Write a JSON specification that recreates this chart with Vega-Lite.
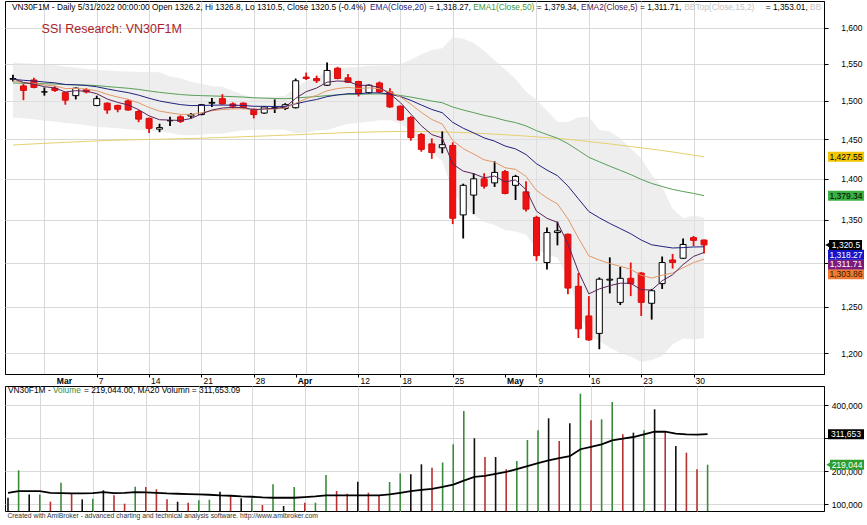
{
  "$schema": "https://vega.github.io/schema/vega-lite/v6.json",
  "background": "white",
  "padding": {"left": 3, "top": 0, "right": 0, "bottom": 0},
  "config": {"font": "Liberation Sans", "view": {"stroke": null}, "numberFormat": ","},
  "datasets": {
    "bars": [
      {"d":"2022-02-23","o":1529,"h":1535,"l":1526,"c":1530,"v":119000,"vf":"flat","e5":1530,"e10":1527,"e20":1529,"e50":1524,"e200":1442.6,"bbt":1552,"bbb":1478,"vma":134000},
      {"d":"2022-02-24","o":1520,"h":1523,"l":1501,"c":1514,"v":202000,"vf":"up","e5":1524.7,"e10":1524.6,"e20":1527.6,"e50":1523.6,"e200":1443.3,"bbt":1551,"bbb":1477,"vma":139000},
      {"d":"2022-02-25","o":1528,"h":1531,"l":1517,"c":1518,"v":129000,"vf":"flat","e5":1522.4,"e10":1523.4,"e20":1526.7,"e50":1523.4,"e200":1444,"bbt":1550,"bbb":1476,"vma":139000},
      {"d":"2022-02-28","o":1512,"h":1518,"l":1507,"c":1512,"v":129000,"vf":"up","e5":1519,"e10":1521.3,"e20":1525.3,"e50":1523,"e200":1444.7,"bbt":1549,"bbb":1474,"vma":139000},
      {"d":"2022-03-01","o":1517,"h":1520,"l":1512,"c":1514,"v":107000,"vf":"down","e5":1517.3,"e10":1520,"e20":1524.2,"e50":1522.6,"e200":1445.3,"bbt":1548,"bbb":1473,"vma":134000},
      {"d":"2022-03-02","o":1511,"h":1512,"l":1495,"c":1501,"v":164500,"vf":"up","e5":1511.9,"e10":1516.5,"e20":1522,"e50":1521.8,"e200":1446,"bbt":1546,"bbb":1471,"vma":133000},
      {"d":"2022-03-03","o":1507,"h":1518,"l":1502,"c":1517,"v":131000,"vf":"down","e5":1513.6,"e10":1516.6,"e20":1521.5,"e50":1521.6,"e200":1446.6,"bbt":1545,"bbb":1470,"vma":132000},
      {"d":"2022-03-04","o":1515,"h":1517,"l":1510,"c":1512,"v":114000,"vf":"flat","e5":1513,"e10":1515.8,"e20":1520.6,"e50":1521.2,"e200":1447.2,"bbt":1543,"bbb":1468,"vma":132000},
      {"d":"2022-03-07","o":1494,"h":1507,"l":1493,"c":1503,"v":116000,"vf":"up","e5":1509.7,"e10":1513.5,"e20":1518.9,"e50":1520.5,"e200":1447.8,"bbt":1542,"bbb":1466,"vma":133000},
      {"d":"2022-03-08","o":1497,"h":1498,"l":1483,"c":1488,"v":141500,"vf":"flat","e5":1502.5,"e10":1508.8,"e20":1516,"e50":1519.2,"e200":1448.4,"bbt":1541,"bbb":1465,"vma":136000},
      {"d":"2022-03-09","o":1494,"h":1495,"l":1485,"c":1489,"v":126400,"vf":"down","e5":1498,"e10":1505.2,"e20":1513.4,"e50":1518,"e200":1448.8,"bbt":1540,"bbb":1464,"vma":133000},
      {"d":"2022-03-10","o":1500,"h":1502,"l":1487,"c":1488,"v":101000,"vf":"down","e5":1494.7,"e10":1502.1,"e20":1511,"e50":1516.9,"e200":1449.1,"bbt":1539.5,"bbb":1463,"vma":134000},
      {"d":"2022-03-11","o":1486,"h":1488,"l":1472,"c":1476,"v":152400,"vf":"up","e5":1488.4,"e10":1497.4,"e20":1507.7,"e50":1515.3,"e200":1449.4,"bbt":1539,"bbb":1462,"vma":136000},
      {"d":"2022-03-14","o":1477,"h":1478,"l":1458,"c":1464,"v":151500,"vf":"down","e5":1480.3,"e10":1491.3,"e20":1503.5,"e50":1513.3,"e200":1449.7,"bbt":1538.8,"bbb":1461,"vma":135000},
      {"d":"2022-03-15","o":1463,"h":1470,"l":1459,"c":1465,"v":144500,"vf":"down","e5":1475.2,"e10":1486.5,"e20":1499.9,"e50":1511.4,"e200":1450,"bbt":1538.4,"bbb":1460.4,"vma":134000},
      {"d":"2022-03-16","o":1474,"h":1479,"l":1467,"c":1474,"v":114200,"vf":"down","e5":1474.8,"e10":1484.2,"e20":1497.4,"e50":1509.9,"e200":1450.3,"bbt":1532.9,"bbb":1458.4,"vma":132000},
      {"d":"2022-03-17","o":1479,"h":1481,"l":1471,"c":1473,"v":107000,"vf":"flat","e5":1474.2,"e10":1482.2,"e20":1495.1,"e50":1508.5,"e200":1450.6,"bbt":1530.4,"bbb":1455.5,"vma":131000},
      {"d":"2022-03-18","o":1480,"h":1484,"l":1477,"c":1482,"v":104000,"vf":"down","e5":1476.8,"e10":1482.2,"e20":1493.8,"e50":1507.5,"e200":1450.9,"bbt":1525.8,"bbb":1455.2,"vma":130000},
      {"d":"2022-03-21","o":1482,"h":1496,"l":1481,"c":1495,"v":111200,"vf":"up","e5":1482.9,"e10":1484.5,"e20":1493.9,"e50":1507,"e200":1451.2,"bbt":1522.9,"bbb":1455.9,"vma":129000},
      {"d":"2022-03-22","o":1497,"h":1504,"l":1492,"c":1498,"v":113000,"vf":"up","e5":1487.9,"e10":1487,"e20":1494.3,"e50":1506.6,"e200":1451.7,"bbt":1519.6,"bbb":1457.1,"vma":128000},
      {"d":"2022-03-23","o":1503,"h":1509,"l":1495,"c":1496,"v":137300,"vf":"flat","e5":1490.6,"e10":1488.6,"e20":1494.5,"e50":1506.2,"e200":1452.2,"bbt":1518.8,"bbb":1457.2,"vma":126000},
      {"d":"2022-03-24","o":1496,"h":1498,"l":1490,"c":1493,"v":124200,"vf":"down","e5":1491.4,"e10":1489.4,"e20":1494.3,"e50":1505.7,"e200":1452.7,"bbt":1513.3,"bbb":1459.5,"vma":125000},
      {"d":"2022-03-25","o":1497,"h":1498,"l":1489,"c":1491,"v":117300,"vf":"flat","e5":1491.3,"e10":1489.7,"e20":1494,"e50":1505.1,"e200":1453.2,"bbt":1508.3,"bbb":1461.7,"vma":123000},
      {"d":"2022-03-28","o":1489,"h":1490,"l":1477,"c":1482,"v":117300,"vf":"up","e5":1488.2,"e10":1488.3,"e20":1492.9,"e50":1504.2,"e200":1453.7,"bbt":1504.9,"bbb":1462.3,"vma":122000},
      {"d":"2022-03-29","o":1484,"h":1493,"l":1483,"c":1492,"v":97000,"vf":"down","e5":1489.5,"e10":1489,"e20":1492.8,"e50":1503.7,"e200":1454.2,"bbt":1505.5,"bbb":1462.3,"vma":120000},
      {"d":"2022-03-30","o":1490,"h":1502,"l":1484,"c":1491,"v":159700,"vf":"up","e5":1490,"e10":1489.3,"e20":1492.6,"e50":1503.2,"e200":1454.7,"bbt":1505.7,"bbb":1462.3,"vma":119000},
      {"d":"2022-03-31","o":1490,"h":1497,"l":1488,"c":1495,"v":94000,"vf":"flat","e5":1491.7,"e10":1490.4,"e20":1492.8,"e50":1502.9,"e200":1455.2,"bbt":1506.8,"bbb":1462.1,"vma":119000},
      {"d":"2022-04-01","o":1491,"h":1530,"l":1490,"c":1527,"v":151500,"vf":"up","e5":1503.4,"e10":1497,"e20":1496.1,"e50":1503.8,"e200":1455.7,"bbt":1518.2,"bbb":1457.6,"vma":119000},
      {"d":"2022-04-04","o":1532,"h":1538,"l":1528,"c":1530,"v":104000,"vf":"down","e5":1512.3,"e10":1503,"e20":1499.3,"e50":1504.9,"e200":1456.3,"bbt":1526.3,"bbb":1458.2,"vma":121000},
      {"d":"2022-04-05","o":1530,"h":1534,"l":1524,"c":1527,"v":104000,"vf":"up","e5":1517.2,"e10":1507.4,"e20":1501.9,"e50":1505.8,"e200":1456.9,"bbt":1531.3,"bbb":1461.5,"vma":123000},
      {"d":"2022-04-06","o":1521,"h":1552,"l":1520,"c":1541,"v":187900,"vf":"up","e5":1525.1,"e10":1513.5,"e20":1505.7,"e50":1507.1,"e200":1457.5,"bbt":1540,"bbb":1461.7,"vma":126000},
      {"d":"2022-04-07","o":1544,"h":1546,"l":1529,"c":1530,"v":139400,"vf":"down","e5":1526.7,"e10":1516.5,"e20":1508,"e50":1508,"e200":1458,"bbt":1543.3,"bbb":1466,"vma":126000},
      {"d":"2022-04-08","o":1531,"h":1536,"l":1524,"c":1525,"v":131200,"vf":"down","e5":1526.1,"e10":1518.1,"e20":1509.6,"e50":1508.7,"e200":1458.5,"bbt":1545.4,"bbb":1469.7,"vma":126000},
      {"d":"2022-04-12","o":1526,"h":1527,"l":1506,"c":1510,"v":167600,"vf":"flat","e5":1520.8,"e10":1516.6,"e20":1509.6,"e50":1508.7,"e200":1458.9,"bbt":1545.8,"bbb":1471.2,"vma":126000},
      {"d":"2022-04-13","o":1511,"h":1522,"l":1510,"c":1521,"v":134200,"vf":"down","e5":1520.8,"e10":1517.4,"e20":1510.7,"e50":1509.2,"e200":1459.3,"bbt":1547.4,"bbb":1472.7,"vma":126000},
      {"d":"2022-04-14","o":1524,"h":1526,"l":1510,"c":1512,"v":126400,"vf":"down","e5":1517.9,"e10":1516.4,"e20":1510.8,"e50":1509.3,"e200":1459.6,"bbt":1547.7,"bbb":1474.6,"vma":126000},
      {"d":"2022-04-15","o":1512,"h":1517,"l":1491,"c":1492,"v":166700,"vf":"up","e5":1509.3,"e10":1512,"e20":1509,"e50":1508.6,"e200":1459.8,"bbt":1547.8,"bbb":1474.4,"vma":129000},
      {"d":"2022-04-18","o":1493,"h":1494,"l":1474,"c":1475,"v":193000,"vf":"up","e5":1497.8,"e10":1505.3,"e20":1505.8,"e50":1507.3,"e200":1460,"bbt":1549.8,"bbb":1470.2,"vma":134000},
      {"d":"2022-04-19","o":1478,"h":1480,"l":1448,"c":1452,"v":190000,"vf":"flat","e5":1482.6,"e10":1495.6,"e20":1500.7,"e50":1505.1,"e200":1460,"bbt":1555.5,"bbb":1460.5,"vma":139000},
      {"d":"2022-04-20","o":1456,"h":1458,"l":1434,"c":1437,"v":220300,"vf":"flat","e5":1467.4,"e10":1484.9,"e20":1494.6,"e50":1502.5,"e200":1459.9,"bbt":1563.3,"bbb":1445.4,"vma":143000},
      {"d":"2022-04-21","o":1444,"h":1451,"l":1425,"c":1433,"v":210000,"vf":"down","e5":1455.9,"e10":1475.5,"e20":1488.7,"e50":1499.8,"e200":1459.7,"bbt":1569.2,"bbb":1431.7,"vma":146000},
      {"d":"2022-04-22","o":1439,"h":1460,"l":1432,"c":1443,"v":225800,"vf":"up","e5":1451.6,"e10":1469.6,"e20":1484.4,"e50":1497.6,"e200":1459.4,"bbt":1571.5,"bbb":1422.5,"vma":152000},
      {"d":"2022-04-25","o":1442,"h":1446,"l":1345,"c":1352,"v":280900,"vf":"up","e5":1418.4,"e10":1448.2,"e20":1471.8,"e50":1491.9,"e200":1459,"bbt":1587.2,"bbb":1383.5,"vma":159000},
      {"d":"2022-04-26","o":1356,"h":1394,"l":1328,"c":1392,"v":381800,"vf":"up","e5":1409.6,"e10":1438,"e20":1464.2,"e50":1488,"e200":1458.5,"bbt":1584.9,"bbb":1367.4,"vma":171000},
      {"d":"2022-04-27","o":1380,"h":1407,"l":1357,"c":1400,"v":299100,"vf":"flat","e5":1406.4,"e10":1431.1,"e20":1458.1,"e50":1484.5,"e200":1457.9,"bbt":1579,"bbb":1356.3,"vma":182000},
      {"d":"2022-04-28","o":1400,"h":1407,"l":1388,"c":1391,"v":242400,"vf":"down","e5":1401.3,"e10":1423.8,"e20":1451.7,"e50":1480.9,"e200":1457.2,"bbt":1567.8,"bbb":1347.5,"vma":185000},
      {"d":"2022-04-29","o":1395,"h":1422,"l":1390,"c":1408,"v":242400,"vf":"flat","e5":1403.5,"e10":1420.9,"e20":1447.5,"e50":1478,"e200":1456.5,"bbt":1555,"bbb":1344.1,"vma":191000},
      {"d":"2022-05-04","o":1409,"h":1411,"l":1381,"c":1382,"v":205200,"vf":"down","e5":1396.3,"e10":1413.8,"e20":1441.3,"e50":1474.3,"e200":1455.7,"bbt":1542.3,"bbb":1337.7,"vma":197000},
      {"d":"2022-05-05","o":1392,"h":1405,"l":1374,"c":1403,"v":230300,"vf":"up","e5":1398.6,"e10":1411.9,"e20":1437.6,"e50":1471.5,"e200":1454.9,"bbt":1529.4,"bbb":1336.4,"vma":206000},
      {"d":"2022-05-06","o":1384,"h":1397,"l":1360,"c":1363,"v":293900,"vf":"up","e5":1386.7,"e10":1403,"e20":1430.5,"e50":1467.2,"e200":1454,"bbt":1512.3,"bbb":1332.3,"vma":215000},
      {"d":"2022-05-09","o":1353,"h":1355,"l":1302,"c":1308,"v":323300,"vf":"up","e5":1360.5,"e10":1385.7,"e20":1418.9,"e50":1461,"e200":1453,"bbt":1502,"bbb":1315.4,"vma":224000},
      {"d":"2022-05-10","o":1300,"h":1341,"l":1292,"c":1335,"v":359700,"vf":"flat","e5":1352,"e10":1376.5,"e20":1410.9,"e50":1456,"e200":1452,"bbt":1486.9,"bbb":1309.6,"vma":232000},
      {"d":"2022-05-11","o":1335,"h":1348,"l":1320,"c":1337,"v":290900,"vf":"down","e5":1347,"e10":1369.3,"e20":1403.9,"e50":1451.3,"e200":1451,"bbt":1472.5,"bbb":1305.7,"vma":239000},
      {"d":"2022-05-12","o":1333,"h":1334,"l":1264,"c":1271,"v":344500,"vf":"flat","e5":1321.7,"e10":1351.4,"e20":1391.2,"e50":1444.3,"e200":1449.8,"bbt":1472.1,"bbb":1281.9,"vma":245000},
      {"d":"2022-05-13","o":1273,"h":1288,"l":1216,"c":1226,"v":434200,"vf":"up","e5":1289.8,"e10":1328.6,"e20":1375.5,"e50":1435.7,"e200":1448.5,"bbt":1478.5,"bbb":1247.3,"vma":266000},
      {"d":"2022-05-16","o":1240,"h":1262,"l":1213,"c":1214,"v":353600,"vf":"down","e5":1264.5,"e10":1307.8,"e20":1360.1,"e50":1427,"e200":1447,"bbt":1479.2,"bbb":1217.5,"vma":273000},
      {"d":"2022-05-17","o":1221,"h":1283,"l":1204,"c":1281,"v":356700,"vf":"up","e5":1270,"e10":1302.9,"e20":1352.6,"e50":1421.3,"e200":1445.5,"bbt":1461.9,"bbb":1213.2,"vma":281000},
      {"d":"2022-05-18","o":1280,"h":1306,"l":1265,"c":1281,"v":409100,"vf":"up","e5":1273.7,"e10":1298.9,"e20":1345.8,"e50":1415.8,"e200":1444,"bbt":1460,"bbb":1205.6,"vma":293000},
      {"d":"2022-05-19","o":1255,"h":1295,"l":1252,"c":1282,"v":311200,"vf":"down","e5":1276.5,"e10":1295.8,"e20":1339.7,"e50":1410.6,"e200":1442.3,"bbt":1450.8,"bbb":1200.1,"vma":298000},
      {"d":"2022-05-20","o":1282,"h":1300,"l":1262,"c":1276,"v":316100,"vf":"flat","e5":1276.3,"e10":1292.2,"e20":1333.6,"e50":1405.3,"e200":1440.6,"bbt":1438.1,"bbb":1196.3,"vma":303000},
      {"d":"2022-05-23","o":1288,"h":1289,"l":1240,"c":1255,"v":323300,"vf":"up","e5":1269.2,"e10":1285.5,"e20":1326.2,"e50":1399.4,"e200":1439,"bbt":1425.9,"bbb":1190.4,"vma":311000},
      {"d":"2022-05-24","o":1254,"h":1270,"l":1236,"c":1268,"v":387000,"vf":"flat","e5":1268.8,"e10":1282.3,"e20":1320.6,"e50":1394.3,"e200":1437.3,"bbt":1405,"bbb":1192.6,"vma":319000},
      {"d":"2022-05-25","o":1276,"h":1307,"l":1270,"c":1300,"v":319100,"vf":"down","e5":1279.2,"e10":1285.5,"e20":1318.7,"e50":1390.6,"e200":1435.6,"bbt":1389.9,"bbb":1196.8,"vma":319000},
      {"d":"2022-05-26","o":1303,"h":1310,"l":1293,"c":1300,"v":275800,"vf":"flat","e5":1286.1,"e10":1288.1,"e20":1316.9,"e50":1387,"e200":1433.7,"bbt":1363.5,"bbb":1209.4,"vma":313000},
      {"d":"2022-05-27","o":1305,"h":1328,"l":1304,"c":1321,"v":255500,"vf":"down","e5":1297.7,"e10":1294.1,"e20":1317.3,"e50":1384.4,"e200":1431.7,"bbt":1352,"bbb":1215.4,"vma":311000},
      {"d":"2022-05-30","o":1329,"h":1331,"l":1319,"c":1325.8,"v":205200,"vf":"down","e5":1307.1,"e10":1299.9,"e20":1318.1,"e50":1382.1,"e200":1429.6,"bbt":1355.4,"bbb":1214.4,"vma":310000},
      {"d":"2022-05-31","o":1326.2,"h":1326.8,"l":1310.5,"c":1320.5,"v":219044,"vf":"up","e5":1311.71,"e10":1303.86,"e20":1318.27,"e50":1379.34,"e200":1427.55,"bbt":1353.01,"bbb":1215.8,"vma":311653.09}
    ]
  },
  "vconcat": [
    {
      "width": 819,
      "height": 373,
      "view": {"stroke": "black", "strokeWidth": 1},
      "layer": [
        {
          "data": {"name": "bars"},
          "transform": [{"window": [{"op": "row_number", "as": "idx"}]}],
          "encoding": {
            "x": {
              "field": "idx", "type": "quantitative", "title": null,
              "scale": {"domain": [0.717, 77.98], "nice": false, "zero": false},
              "axis": {
                "values": [4,5,9,14,19,24,28,29,34,38,43,48,51,56,61,66],
                "labelExpr": "['','Mar','7','14','21','28','Apr','','12','18','25','May','9','16','23','30'][indexof([4,5,9,14,19,24,28,29,34,38,43,48,51,56,61,66], datum.value)]",
                "labelAlign": "left", "labelBaseline": "top", "labelFontSize": 8.5, "labelColor": "black",
                "labelPadding": -1, "labelOffset": 1.5, "labelOverlap": false, "labelFlush": false, "labelBound": false,
                "labelFontWeight": {"condition": {"test": "datum.value==5||datum.value==28||datum.value==48", "value": "bold"}, "value": "normal"},
                "tickSize": 3,
                "tickColor": {"condition": {"test": "datum.value==4||datum.value==5||datum.value==29", "value": "transparent"}, "value": "black"},
                "grid": true,
                "gridColor": {"condition": {"test": "datum.value==5||datum.value==28||datum.value==48", "value": "transparent"}, "value": "#d9d9d9"},
                "domainColor": "black"
              }
            }
          },
          "layer": [
            {
              "mark": {"type": "area", "color": "#e2e2e2", "opacity": 0.6},
              "encoding": {
                "y": {
                  "field": "bbt", "type": "quantitative", "title": null,
                  "scale": {"type": "log", "domain": [1177.9, 1638.7], "nice": false, "zero": false},
                  "axis": {
                    "orient": "right", "values": [1200,1250,1300,1350,1400,1450,1500,1550,1600],
                    "labelExpr": "datum.value == 1300 ? '' : format(datum.value, ',')",
                    "labelFontSize": 8.5, "labelColor": "black", "labelAlign": "right", "labelPadding": 34,
                    "tickSize": 4, "tickColor": "black", "domainColor": "black", "gridColor": "#d9d9d9"
                  }
                },
                "y2": {"field": "bbb"}
              }
            },
            {"mark": {"type": "line", "color": "#e6d070", "strokeWidth": 1}, "encoding": {"y": {"field": "e200", "type": "quantitative", "title": null}}},
            {"mark": {"type": "line", "color": "#58a058", "strokeWidth": 1}, "encoding": {"y": {"field": "e50", "type": "quantitative", "title": null}}},
            {
              "mark": {"type": "rule", "strokeWidth": 1.8},
              "encoding": {
                "y": {"field": "l", "type": "quantitative", "title": null},
                "y2": {"field": "h"},
                "color": {"condition": {"test": "datum.c < datum.o", "value": "#e81010"}, "value": "black"}
              }
            },
            {
              "mark": {"type": "bar", "width": 6, "strokeWidth": 1, "orient": "vertical"},
              "encoding": {
                "y": {"field": "o", "type": "quantitative", "title": null},
                "y2": {"field": "c"},
                "fill": {"condition": {"test": "datum.c < datum.o", "value": "#ee1111"}, "value": "white"},
                "stroke": {"condition": {"test": "datum.c < datum.o", "value": "#d80c0c"}, "value": "black"}
              }
            },
            {"mark": {"type": "line", "color": "#22227e", "strokeWidth": 1}, "encoding": {"y": {"field": "e20", "type": "quantitative", "title": null}}},
            {"mark": {"type": "line", "color": "#e09868", "strokeWidth": 1}, "encoding": {"y": {"field": "e10", "type": "quantitative", "title": null}}},
            {"mark": {"type": "line", "color": "#5a2458", "strokeWidth": 1}, "encoding": {"y": {"field": "e5", "type": "quantitative", "title": null}}}
          ]
        },
        {"data": {"values": [{}]}, "mark": {"type": "text", "text": "VN30F1M - Daily 5/31/2022 00:00:00 Open 1326.2, Hi 1326.8, Lo 1310.5, Close 1320.5 (-0.4%)", "align": "left", "baseline": "alphabetic", "fontSize": 8.35, "color": "black", "dx": 0},
         "encoding": {"x": {"datum": 0.906, "type": "quantitative"}, "y": {"datum": 1625.7, "type": "quantitative"}}},
        {"data": {"values": [{}]}, "mark": {"type": "text", "text": "EMA(Close,20)", "align": "left", "baseline": "alphabetic", "fontSize": 8.35, "color": "#1e1e8c", "dx": 358},
         "encoding": {"x": {"datum": 0.906, "type": "quantitative"}, "y": {"datum": 1625.7, "type": "quantitative"}}},
        {"data": {"values": [{}]}, "mark": {"type": "text", "text": "= 1,318.27,", "align": "left", "baseline": "alphabetic", "fontSize": 8.35, "color": "black", "dx": 416.9},
         "encoding": {"x": {"datum": 0.906, "type": "quantitative"}, "y": {"datum": 1625.7, "type": "quantitative"}}},
        {"data": {"values": [{}]}, "mark": {"type": "text", "text": "EMA1(Close,50)", "align": "left", "baseline": "alphabetic", "fontSize": 8.35, "color": "#3d9a3d", "dx": 461.2},
         "encoding": {"x": {"datum": 0.906, "type": "quantitative"}, "y": {"datum": 1625.7, "type": "quantitative"}}},
        {"data": {"values": [{}]}, "mark": {"type": "text", "text": "= 1,379.34,", "align": "left", "baseline": "alphabetic", "fontSize": 8.35, "color": "black", "dx": 524.8},
         "encoding": {"x": {"datum": 0.906, "type": "quantitative"}, "y": {"datum": 1625.7, "type": "quantitative"}}},
        {"data": {"values": [{}]}, "mark": {"type": "text", "text": "EMA2(Close,5)", "align": "left", "baseline": "alphabetic", "fontSize": 8.35, "color": "#4d1a4d", "dx": 569.1},
         "encoding": {"x": {"datum": 0.906, "type": "quantitative"}, "y": {"datum": 1625.7, "type": "quantitative"}}},
        {"data": {"values": [{}]}, "mark": {"type": "text", "text": "= 1,311.71,", "align": "left", "baseline": "alphabetic", "fontSize": 8.35, "color": "black", "dx": 628},
         "encoding": {"x": {"datum": 0.906, "type": "quantitative"}, "y": {"datum": 1625.7, "type": "quantitative"}}},
        {"data": {"values": [{}]}, "mark": {"type": "text", "text": "BBTop(Close,15,2)", "align": "left", "baseline": "alphabetic", "fontSize": 8.35, "color": "#c4c4c4", "dx": 672.3},
         "encoding": {"x": {"datum": 0.906, "type": "quantitative"}, "y": {"datum": 1625.7, "type": "quantitative"}}},
        {"data": {"values": [{}]}, "mark": {"type": "text", "text": "= 1,353.01,", "align": "left", "baseline": "alphabetic", "fontSize": 8.35, "color": "black", "dx": 753.8},
         "encoding": {"x": {"datum": 0.906, "type": "quantitative"}, "y": {"datum": 1625.7, "type": "quantitative"}}},
        {"data": {"values": [{}]}, "mark": {"type": "text", "text": "BB", "align": "left", "baseline": "alphabetic", "fontSize": 8.35, "color": "#c4c4c4", "dx": 798.1},
         "encoding": {"x": {"datum": 0.906, "type": "quantitative"}, "y": {"datum": 1625.7, "type": "quantitative"}}},
        {"data": {"values": [{}]}, "mark": {"type": "text", "text": "SSI Research: VN30F1M", "align": "left", "baseline": "alphabetic", "fontSize": 12.5, "color": "#a8242a"},
         "encoding": {"x": {"datum": 3.736, "type": "quantitative"}, "y": {"datum": 1593.4, "type": "quantitative"}}},

        {"data": {"values": [{}]}, "mark": {"type": "rect", "color": "#f2c500", "xOffset": 4, "x2Offset": 40, "yOffset": -5, "y2Offset": 5},
         "encoding": {"x": {"value": "width"}, "x2": {"value": "width"}, "y": {"datum": 1427.55, "type": "quantitative"}, "y2": {"datum": 1427.55}}},
        {"data": {"values": [{}]}, "mark": {"type": "text", "text": "1,427.55", "align": "center", "baseline": "middle", "fontSize": 8.5, "color": "black", "dx": 22},
         "encoding": {"x": {"value": "width"}, "y": {"datum": 1427.55, "type": "quantitative"}}},

        {"data": {"values": [{}]}, "mark": {"type": "rect", "color": "#3cb043", "xOffset": 4, "x2Offset": 40, "yOffset": -5, "y2Offset": 5},
         "encoding": {"x": {"value": "width"}, "x2": {"value": "width"}, "y": {"datum": 1379.34, "type": "quantitative"}, "y2": {"datum": 1379.34}}},
        {"data": {"values": [{}]}, "mark": {"type": "text", "text": "1,379.34", "align": "center", "baseline": "middle", "fontSize": 8.5, "color": "black", "dx": 22},
         "encoding": {"x": {"value": "width"}, "y": {"datum": 1379.34, "type": "quantitative"}}},

        {"data": {"values": [{}]}, "mark": {"type": "rect", "color": "#f07a32", "xOffset": 4, "x2Offset": 40, "yOffset": 10, "y2Offset": 20},
         "encoding": {"x": {"value": "width"}, "x2": {"value": "width"}, "y": {"datum": 1303.86, "type": "quantitative"}, "y2": {"datum": 1303.86}}},
        {"data": {"values": [{}]}, "mark": {"type": "text", "text": "1,303.86", "align": "center", "baseline": "middle", "fontSize": 8.5, "color": "#3a1800", "dx": 22, "yOffset": 15},
         "encoding": {"x": {"value": "width"}, "y": {"datum": 1303.86, "type": "quantitative"}}},

        {"data": {"values": [{}]}, "mark": {"type": "rect", "color": "#7d1a7d", "xOffset": 4, "x2Offset": 40, "yOffset": 7, "y2Offset": 17},
         "encoding": {"x": {"value": "width"}, "x2": {"value": "width"}, "y": {"datum": 1311.71, "type": "quantitative"}, "y2": {"datum": 1311.71}}},
        {"data": {"values": [{}]}, "mark": {"type": "text", "text": "1,311.71", "align": "center", "baseline": "middle", "fontSize": 8.5, "color": "white", "dx": 22, "yOffset": 12},
         "encoding": {"x": {"value": "width"}, "y": {"datum": 1311.71, "type": "quantitative"}}},

        {"data": {"values": [{}]}, "mark": {"type": "rect", "color": "#1414c8", "xOffset": 4, "x2Offset": 40, "yOffset": 3, "y2Offset": 13},
         "encoding": {"x": {"value": "width"}, "x2": {"value": "width"}, "y": {"datum": 1318.27, "type": "quantitative"}, "y2": {"datum": 1318.27}}},
        {"data": {"values": [{}]}, "mark": {"type": "text", "text": "1,318.27", "align": "center", "baseline": "middle", "fontSize": 8.5, "color": "white", "dx": 22, "yOffset": 8},
         "encoding": {"x": {"value": "width"}, "y": {"datum": 1318.27, "type": "quantitative"}}},

        {"data": {"values": [{}]}, "mark": {"type": "rect", "color": "black", "xOffset": 5, "x2Offset": 38, "yOffset": -5, "y2Offset": 5},
         "encoding": {"x": {"value": "width"}, "x2": {"value": "width"}, "y": {"datum": 1320.5, "type": "quantitative"}, "y2": {"datum": 1320.5}}},
        {"data": {"values": [{}]}, "mark": {"type": "point", "shape": "triangle-left", "filled": true, "color": "black", "opacity": 1, "size": 40, "xOffset": 4},
         "encoding": {"x": {"value": "width"}, "y": {"datum": 1320.5, "type": "quantitative"}}},
        {"data": {"values": [{}]}, "mark": {"type": "text", "text": "1,320.5", "align": "center", "baseline": "middle", "fontSize": 8.5, "color": "white", "dx": 22},
         "encoding": {"x": {"value": "width"}, "y": {"datum": 1320.5, "type": "quantitative"}}}
      ]
    },
    {
      "width": 819,
      "height": 125,
      "view": {"stroke": "black", "strokeWidth": 1},
      "title": {"text": "Created with AmiBroker - advanced charting and technical analysis software. http://www.amibroker.com", "orient": "bottom", "anchor": "start", "fontSize": 6.8, "fontWeight": "normal", "color": "#333333", "font": "Liberation Sans", "offset": 1, "dx": 3},
      "layer": [
        {
          "data": {"name": "bars"},
          "transform": [{"window": [{"op": "row_number", "as": "idx"}]}],
          "encoding": {
            "x": {
              "field": "idx", "type": "quantitative", "title": null,
              "scale": {"domain": [0.717, 77.98], "nice": false, "zero": false},
              "axis": {"values": [4,9,14,19,24,29,34,38,43,51,56,61,66], "labels": false, "ticks": false, "domain": false, "grid": true, "gridColor": "#d9d9d9"}
            }
          },
          "layer": [
            {
              "mark": {"type": "rule", "strokeWidth": 1.6},
              "encoding": {
                "y": {
                  "field": "v", "type": "quantitative", "title": null,
                  "scale": {"domain": [78788, 457576], "nice": false, "zero": false},
                  "axis": {
                    "orient": "right", "values": [100000, 200000, 300000, 400000],
                    "labelExpr": "datum.value == 300000 ? '' : format(datum.value, ',')",
                    "labelFontSize": 8.5, "labelColor": "black", "labelAlign": "right", "labelPadding": 34,
                    "tickSize": 4, "tickColor": "black", "domainColor": "black", "gridColor": "#d9d9d9"
                  }
                },
                "y2": {"datum": 78788},
                "color": {"field": "vf", "type": "nominal", "legend": null, "scale": {"domain": ["up", "down", "flat"], "range": ["#3a8c3a", "#b83030", "#111111"]}}
              }
            },
            {"mark": {"type": "line", "color": "black", "strokeWidth": 1.8}, "encoding": {"y": {"field": "vma", "type": "quantitative", "title": null}}}
          ]
        },
        {"data": {"values": [{}]}, "mark": {"type": "text", "text": "VN30F1M -", "align": "left", "baseline": "alphabetic", "fontSize": 8.35, "color": "black", "dx": 0},
         "encoding": {"x": {"datum": 1.0, "type": "quantitative"}, "y": {"datum": 435454, "type": "quantitative"}}},
        {"data": {"values": [{}]}, "mark": {"type": "text", "text": "Volume", "align": "left", "baseline": "alphabetic", "fontSize": 8.35, "color": "#3a8c3a", "dx": 45},
         "encoding": {"x": {"datum": 1.0, "type": "quantitative"}, "y": {"datum": 435454, "type": "quantitative"}}},
        {"data": {"values": [{}]}, "mark": {"type": "text", "text": "= 219,044.00, MA20 Volumn = 311,653.09", "align": "left", "baseline": "alphabetic", "fontSize": 8.35, "color": "black", "dx": 76},
         "encoding": {"x": {"datum": 1.0, "type": "quantitative"}, "y": {"datum": 435454, "type": "quantitative"}}},

        {"data": {"values": [{}]}, "mark": {"type": "rect", "color": "black", "xOffset": 4, "x2Offset": 40, "yOffset": -5, "y2Offset": 5},
         "encoding": {"x": {"value": "width"}, "x2": {"value": "width"}, "y": {"datum": 311653, "type": "quantitative"}, "y2": {"datum": 311653}}},
        {"data": {"values": [{}]}, "mark": {"type": "text", "text": "311,653", "align": "center", "baseline": "middle", "fontSize": 8.5, "color": "white", "dx": 22},
         "encoding": {"x": {"value": "width"}, "y": {"datum": 311653, "type": "quantitative"}}},

        {"data": {"values": [{}]}, "mark": {"type": "rect", "color": "#2e9e2e", "xOffset": 6, "x2Offset": 40, "yOffset": -5, "y2Offset": 5},
         "encoding": {"x": {"value": "width"}, "x2": {"value": "width"}, "y": {"datum": 219044, "type": "quantitative"}, "y2": {"datum": 219044}}},
        {"data": {"values": [{}]}, "mark": {"type": "point", "shape": "triangle-left", "filled": true, "color": "#2e9e2e", "opacity": 1, "size": 40, "xOffset": 5},
         "encoding": {"x": {"value": "width"}, "y": {"datum": 219044, "type": "quantitative"}}},
        {"data": {"values": [{}]}, "mark": {"type": "text", "text": "219,044", "align": "center", "baseline": "middle", "fontSize": 8.5, "color": "white", "dx": 23},
         "encoding": {"x": {"value": "width"}, "y": {"datum": 219044, "type": "quantitative"}}}
      ]
    }
  ],
  "spacing": 0
}
